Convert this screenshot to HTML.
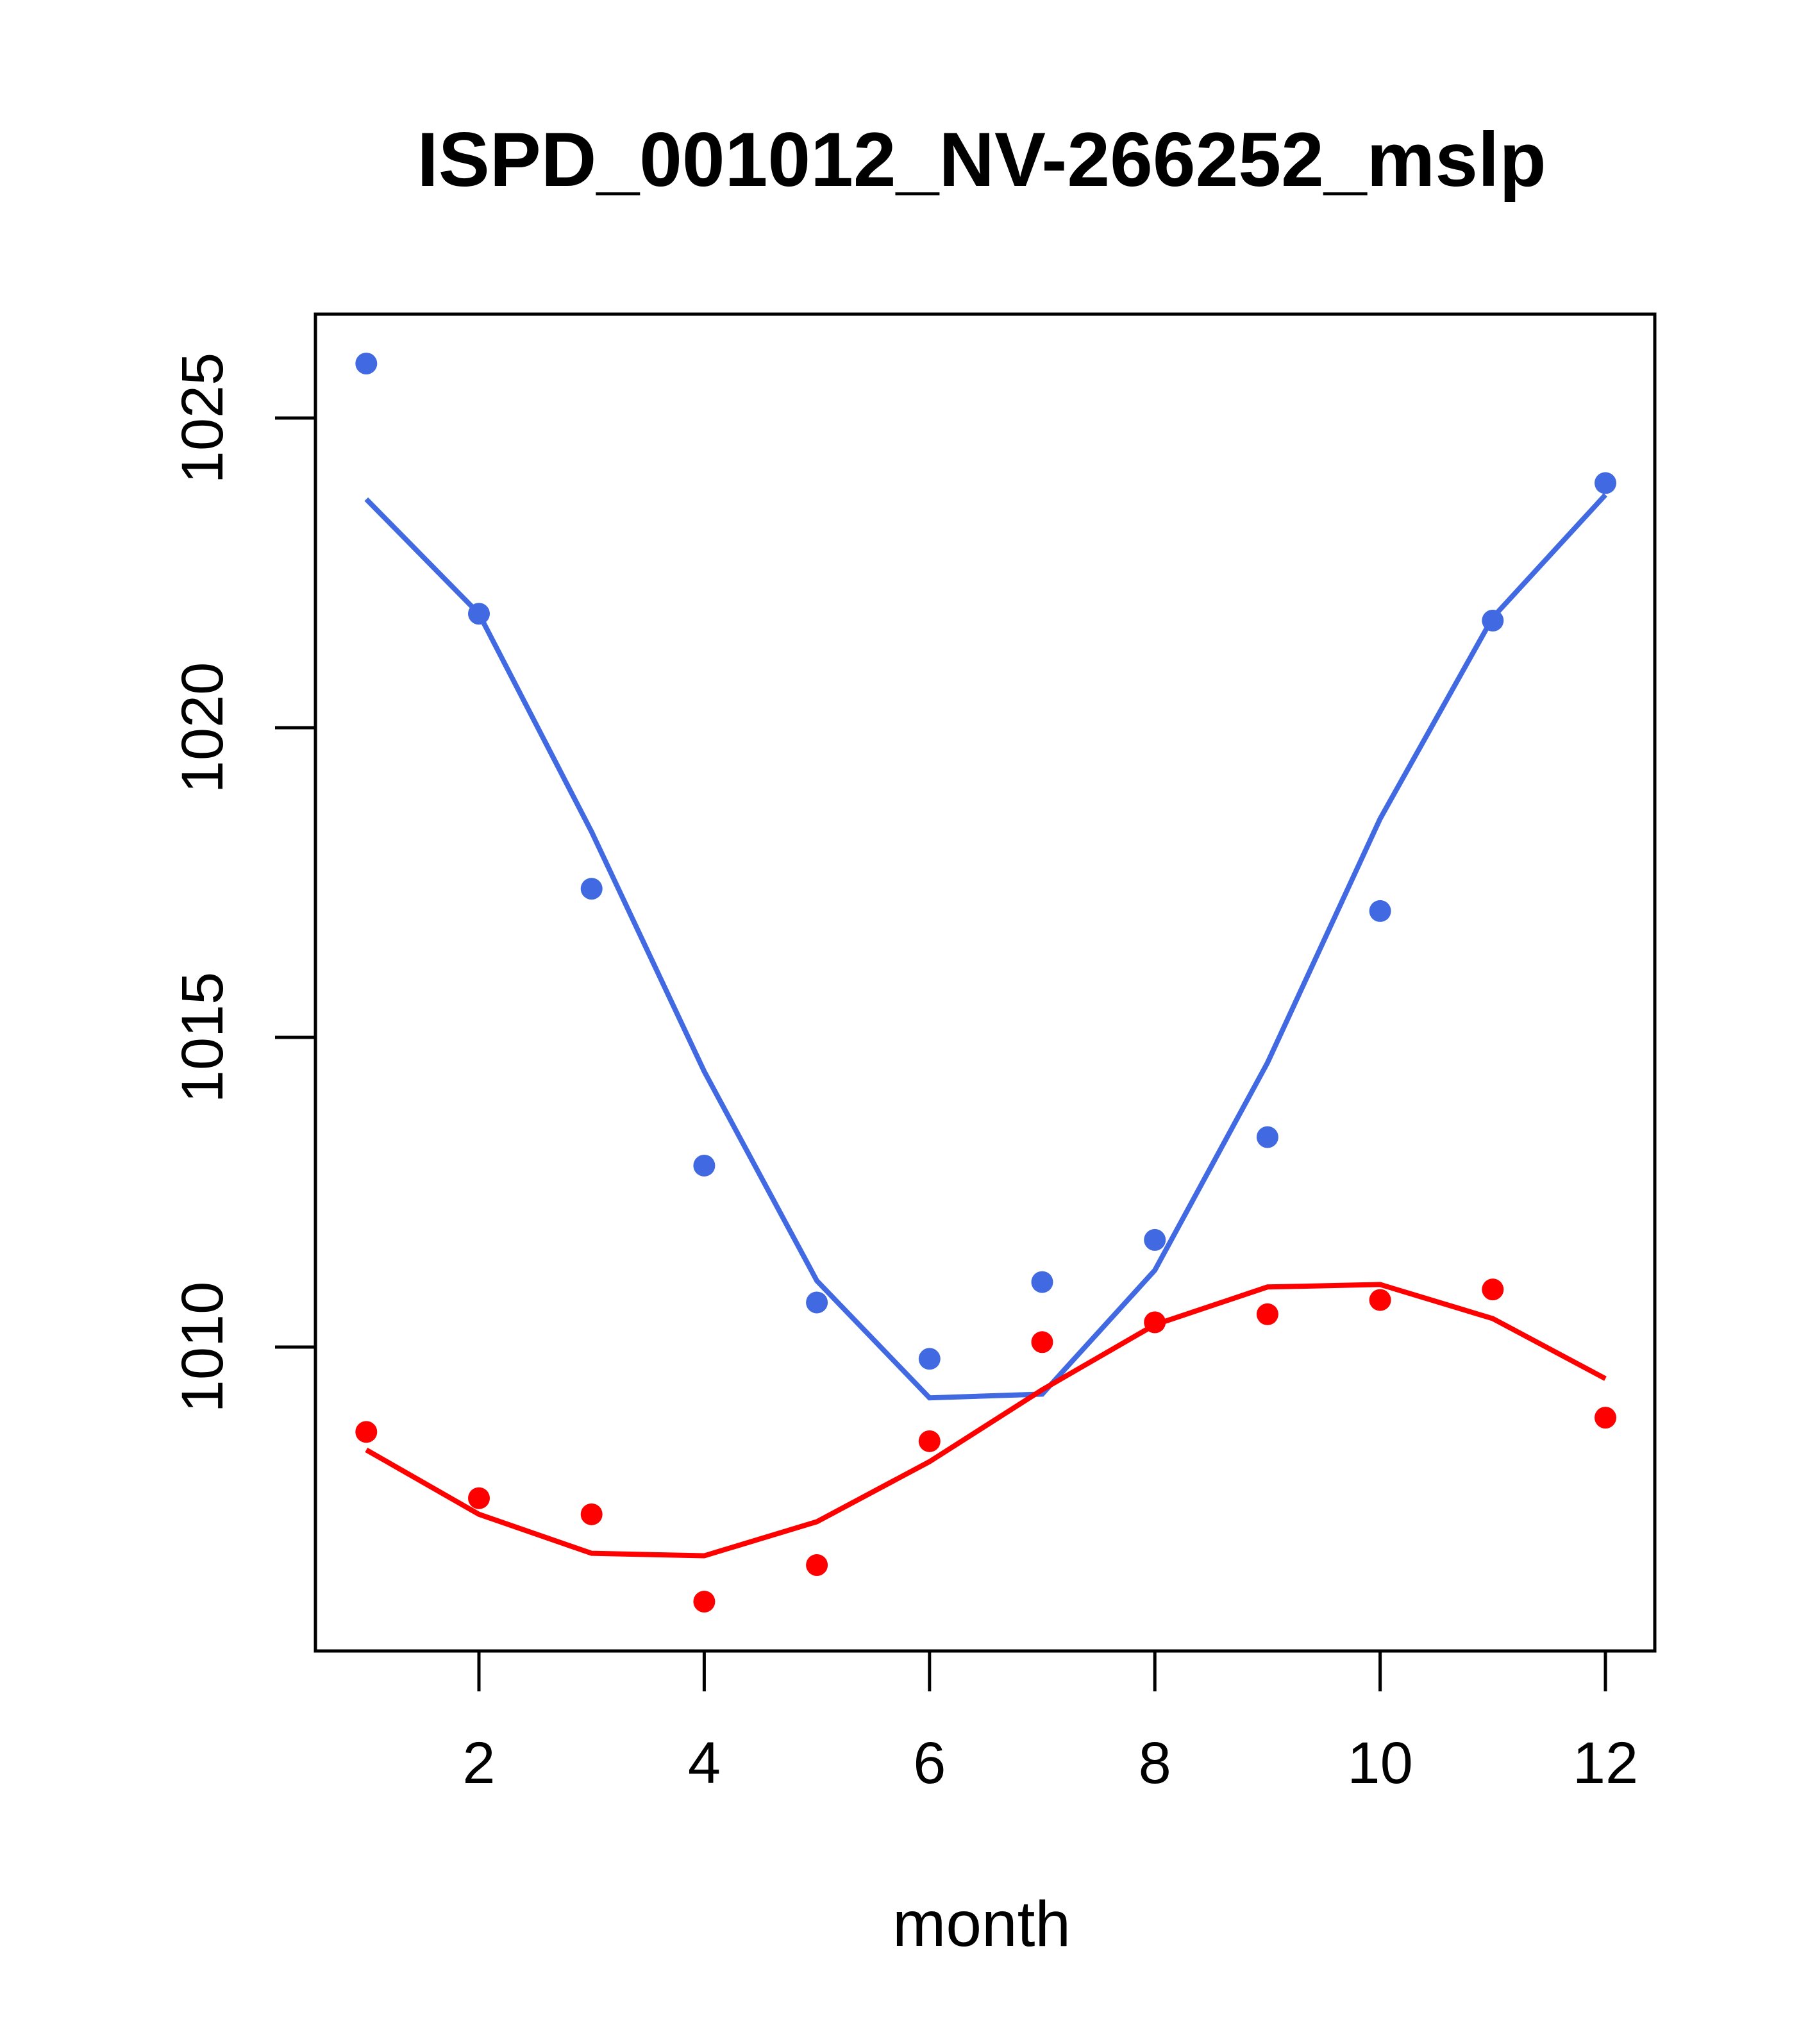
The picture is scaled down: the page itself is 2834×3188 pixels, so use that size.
<!DOCTYPE html>
<html><head><meta charset="utf-8"><style>
html,body{margin:0;padding:0;background:#fff;}
svg{display:block;}
text{font-family:"Liberation Sans",Arial,sans-serif;}
</style></head><body>
<svg id="chart" width="2834" height="3188" viewBox="0 0 2834 3188" xmlns="http://www.w3.org/2000/svg">
<rect width="2834" height="3188" fill="#fff"/>
<text x="1531" y="290" font-size="120" font-weight="bold" text-anchor="middle">ISPD_001012_NV-266252_mslp</text>
<rect x="492" y="490" width="2089" height="2085" fill="none" stroke="#000" stroke-width="5"/>
<text x="1531" y="3035" font-size="100" text-anchor="middle">month</text>
<g id="axes"></g>
<g id="series"></g>
</svg>
<script>
const months = [1,2,3,4,5,6,7,8,9,10,11,12];
const bluePoints = [1025.88,1021.84,1017.40,1012.93,1010.72,1009.81,1011.05,1011.73,1013.39,1017.04,1021.73,1023.95];
const blueLine = [1023.69,1021.84,1018.32,1014.45,1011.07,1009.18,1009.24,1011.24,1014.59,1018.53,1021.78,1023.76];
const redPoints = [1008.63,1007.56,1007.30,1005.89,1006.48,1008.48,1010.08,1010.40,1010.53,1010.76,1010.93,1008.86];
const redLine = [1008.34,1007.30,1006.67,1006.63,1007.18,1008.15,1009.31,1010.36,1010.97,1011.01,1010.46,1009.49];
const xTicks = [2,4,6,8,10,12];
const yTicks = [1010,1015,1020,1025];

const NS = "http://www.w3.org/2000/svg";
function xs(m){ return 747 + (m-2)*175.7; }
function ys(v){ return 2101 - (v-1010)*96.6; }
function mk(tag, attrs, parent){
  const e = document.createElementNS(NS, tag);
  for (const k in attrs) e.setAttribute(k, attrs[k]);
  parent.appendChild(e); return e;
}
const axes = document.getElementById('axes');
const series = document.getElementById('series');

const xl = mk('line',{x1:xs(2),x2:xs(12),y1:2575,y2:2575,stroke:'#000','stroke-width':5},axes);


xTicks.forEach(t=>{
  const l = mk('line',{x1:xs(t),x2:xs(t),y1:2575,y2:2638,stroke:'#000','stroke-width':5},axes);
  
  
  const tx = mk('text',{x:xs(t),y:2781,'font-size':92,'text-anchor':'middle'},axes);
  tx.textContent = t;
  
  
});
const yl = mk('line',{x1:492,x2:492,y1:ys(1010),y2:ys(1025),stroke:'#000','stroke-width':5},axes);


yTicks.forEach(t=>{
  const l = mk('line',{x1:429,x2:492,y1:ys(t),y2:ys(t),stroke:'#000','stroke-width':5},axes);
  
  
  const tx = mk('text',{x:0,y:0,'font-size':92,'text-anchor':'middle',transform:`translate(347,${ys(t)}) rotate(-90)`},axes);
  tx.textContent = t;
  
  
});

function drawLine(vals, color, name){
  const p = mk('polyline',{points:vals.map((v,i)=>xs(months[i])+','+ys(v)).join(' '),fill:'none',stroke:color,'stroke-width':8},series);
  
  
}
function drawPoints(vals, color, name){
  vals.forEach((v,i)=>{
    const c = mk('circle',{cx:xs(months[i]),cy:ys(v),r:17,fill:color},series);
    
    
  });
}
drawLine(blueLine,'#4169E1','blue-line');
drawLine(redLine,'#FF0000','red-line');
drawPoints(bluePoints,'#4169E1','blue-point');
drawPoints(redPoints,'#FF0000','red-point');
</script>
</body></html>
